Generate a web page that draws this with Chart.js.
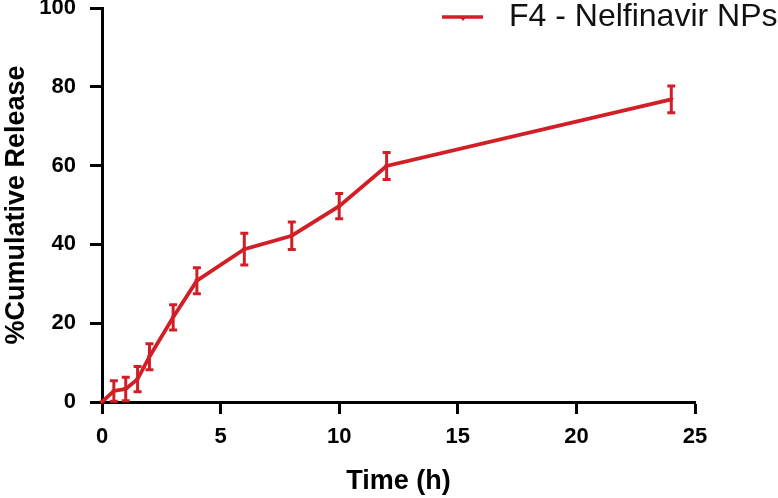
<!DOCTYPE html>
<html>
<head>
<meta charset="utf-8">
<script src="https://cdn.jsdelivr.net/npm/chart.js@4/dist/chart.umd.min.js"></script>
<style>
  html, body { margin: 0; padding: 0; background: #fff; }
  #wrap { width: 778px; height: 498px; position: relative; }
</style>
</head>
<body>
<div id="wrap"><canvas id="c" width="778" height="498"></canvas></div>
<script>
// ---- Data ----
const timeHours = [0, 0.5, 1, 1.5, 2, 3, 4, 6, 8, 10, 12, 24];
const cumulativeRelease = [0, 2.8, 3.3, 5.8, 11.5, 21.5, 30.8, 38.8, 42.2, 49.7, 59.9, 76.8];
const releaseError = [0, 2.6, 3.0, 3.2, 3.3, 3.2, 3.3, 4.0, 3.5, 3.2, 3.4, 3.4];
const seriesLabel = 'F4 - Nelfinavir NPs';
const xTitle = 'Time (h)';
const yTitle = '%Cumulative Release';

const RED = '#d21f27';
const FONT = "'Liberation Sans', Arial, Helvetica, sans-serif";

const points = timeHours.map((t, i) => ({ x: t, y: cumulativeRelease[i] }));

const errorBars = {
  id: 'errorBars',
  afterDatasetsDraw(chart) {
    const ctx = chart.ctx;
    const xs = chart.scales.x, ys = chart.scales.y;
    ctx.save();
    ctx.strokeStyle = RED;
    ctx.lineWidth = 3;
    ctx.lineCap = 'butt';
    timeHours.forEach((t, i) => {
      const e = releaseError[i];
      if (!e) return;
      const px = xs.getPixelForValue(t);
      const top = ys.getPixelForValue(cumulativeRelease[i] + e);
      const bot = ys.getPixelForValue(Math.max(0, cumulativeRelease[i] - e));
      const cap = 4;
      ctx.beginPath();
      ctx.moveTo(px, top); ctx.lineTo(px, bot);
      ctx.moveTo(px - cap, top); ctx.lineTo(px + cap, top);
      ctx.moveTo(px - cap, bot); ctx.lineTo(px + cap, bot);
      ctx.stroke();
    });
    ctx.restore();
  }
};

const customLegend = {
  id: 'customLegend',
  afterDraw(chart) {
    const ctx = chart.ctx;
    ctx.save();
    const y = 17;
    ctx.strokeStyle = RED;
    ctx.lineWidth = 3.5;
    ctx.beginPath();
    ctx.moveTo(442, y); ctx.lineTo(483, y);
    ctx.stroke();
    ctx.fillStyle = RED;
    ctx.beginPath();
    ctx.moveTo(459, y - 1); ctx.lineTo(467, y - 1); ctx.lineTo(463, y + 4);
    ctx.closePath();
    ctx.fill();
    ctx.fillStyle = '#111';
    ctx.font = '32px ' + FONT;
    ctx.textBaseline = 'middle';
    ctx.textAlign = 'left';
    ctx.fillText(seriesLabel, 509, y);
    ctx.restore();
  }
};

new Chart(document.getElementById('c'), {
  type: 'line',
  data: {
    datasets: [{
      label: seriesLabel,
      data: points,
      borderColor: RED,
      backgroundColor: RED,
      borderWidth: 3.8,
      pointStyle: 'triangle',
      rotation: 180,
      pointRadius: 3,
      pointBorderWidth: 0,
      tension: 0,
      clip: 10
    }]
  },
  options: {
    responsive: false,
    animation: false,
    devicePixelRatio: 1,
    layout: { padding: { top: 0, right: 83, left: 0, bottom: 0 } },
    plugins: {
      legend: { display: false },
      tooltip: { enabled: false }
    },
    scales: {
      x: {
        type: 'linear',
        min: 0, max: 25,
        ticks: { stepSize: 5, color: '#000', font: { family: FONT, size: 22, weight: 'bold' }, padding: 10, maxRotation: 0 },
        grid: { display: true, drawOnChartArea: false, drawTicks: true, tickLength: 12, tickWidth: 3, tickColor: '#000' },
        border: { display: true, color: '#000', width: 3 },
        title: { display: true, text: xTitle, color: '#000', font: { family: FONT, size: 27, weight: 'bold' }, padding: { top: 0, bottom: 0 } },
        afterFit(scale) { scale.height = 96; }
      },
      y: {
        min: 0, max: 100,
        ticks: { stepSize: 20, color: '#000', font: { family: FONT, size: 22, weight: 'bold' }, padding: 14 },
        grid: { display: true, drawOnChartArea: false, drawTicks: true, tickLength: 12, tickWidth: 3, tickColor: '#000' },
        border: { display: true, color: '#000', width: 3 },
        title: { display: true, text: yTitle, color: '#000', font: { family: FONT, size: 27, weight: 'bold' }, padding: { top: 0, bottom: 0 } },
        afterFit(scale) { scale.width = 102; scale.paddingTop = 8; scale.paddingBottom = 0; }
      }
    }
  },
  plugins: [errorBars, customLegend]
});
</script>
</body>
</html>
